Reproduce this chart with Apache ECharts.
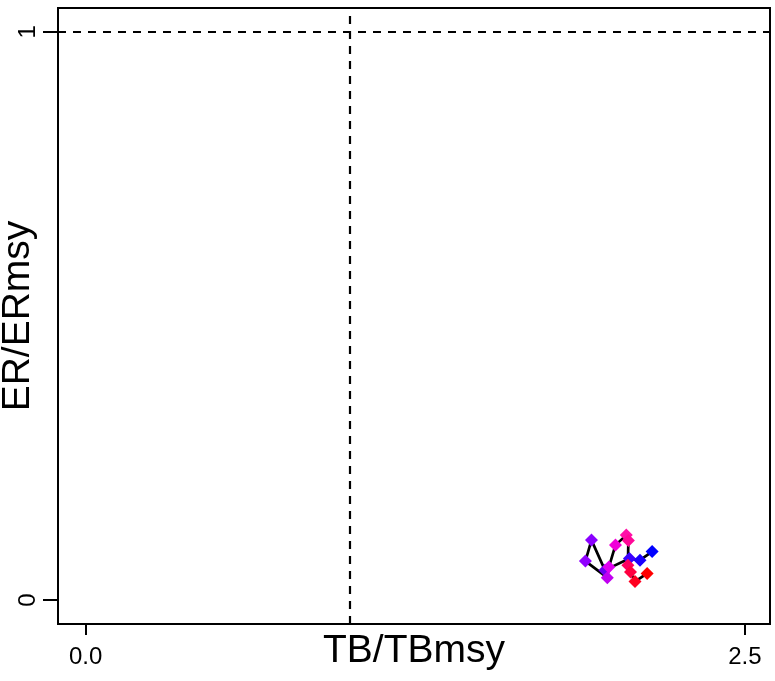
<!DOCTYPE html>
<html>
<head>
<meta charset="utf-8">
<script src="https://cdn.jsdelivr.net/npm/echarts@6/dist/echarts.min.js"></script>
<style>
html,body{margin:0;padding:0;background:#fff;}
#chart{width:775px;height:681px;}
</style>
</head>
<body>
<div id="chart"></div>
<script>
// Trajectory of TB/TBmsy (x) vs ER/ERmsy (y), in time order
const tbRatio = [2.148, 2.102, 2.062, 1.969, 1.918, 1.895, 1.978, 1.984, 2.009, 2.050, 2.058, 2.056, 2.066, 2.083, 2.129];
const erRatio = [0.0854, 0.0704, 0.0731, 0.0528, 0.1056, 0.0687, 0.0396, 0.0581, 0.0968, 0.1144, 0.1048, 0.0616, 0.0493, 0.0326, 0.0470];
const pointColors = ['#0000ff', '#1a00ff', '#3a00ff', '#6a00f0', '#8a00ff', '#9000ff', '#c000f0', '#e000f0', '#f000d8', '#ff10a8', '#ff0898', '#ff0060', '#ff0040', '#ff0020', '#ff0000'];
const xTicks = [0, 2.5];
const xTickLabels = ['0.0', '2.5'];
const yTicks = [0, 1];
const yTickLabels = ['0', '1'];
const refX = 1;
const refY = 1;

const data = tbRatio.map((x, i) => ({
  value: [x, erRatio[i]],
  itemStyle: { color: pointColors[i] }
}));

const chart = echarts.init(document.getElementById('chart'), null, { renderer: 'canvas' });
const font = 'Liberation Sans, Arial, Helvetica, sans-serif';
chart.setOption({
  animation: false,
  backgroundColor: '#ffffff',
  grid: {
    left: 58, right: 5, top: 8, bottom: 57,
    containLabel: false,
    outerBoundsMode: 'none',
    show: true, borderColor: '#000', borderWidth: 2, backgroundColor: 'transparent'
  },
  xAxis: {
    type: 'value',
    min: -0.105, max: 2.595,
    position: 'bottom',
    name: 'TB/TBmsy',
    nameLocation: 'middle',
    nameGap: 8,
    nameMoveOverlap: false,
    nameTextStyle: { fontFamily: font, fontSize: 39, color: '#000', verticalAlign: 'top' },
    axisLine: { show: false, onZero: false },
    splitLine: { show: false },
    axisTick: { show: true, length: 11, customValues: xTicks, lineStyle: { color: '#000', width: 2 } },
    axisLabel: {
      show: true, customValues: xTicks, margin: 21,
      fontFamily: font, fontSize: 24, color: '#000',
      formatter: v => xTickLabels[xTicks.indexOf(v)] ?? ''
    }
  },
  yAxis: {
    type: 'value',
    min: -0.042, max: 1.042,
    position: 'left',
    name: 'ER/ERmsy',
    nameLocation: 'middle',
    nameGap: 20,
    nameMoveOverlap: false,
    nameTextStyle: { fontFamily: font, fontSize: 39, color: '#000' },
    axisLine: { show: false, onZero: false },
    splitLine: { show: false },
    axisTick: { show: true, length: 15, customValues: yTicks, lineStyle: { color: '#000', width: 2 } },
    axisLabel: {
      show: true, customValues: yTicks, margin: 18, rotate: 90,
      fontFamily: font, fontSize: 24, color: '#000',
      formatter: v => yTickLabels[yTicks.indexOf(v)] ?? ''
    }
  },
  series: [{
    type: 'line',
    data: data,
    symbol: 'diamond',
    symbolSize: 13,
    lineStyle: { color: '#000', width: 2.7 },
    itemStyle: { borderWidth: 0 },
    z: 3,
    markLine: {
      silent: true,
      symbol: ['none', 'none'],
      label: { show: false },
      lineStyle: { color: '#000', width: 2.2, type: [8, 7] },
      data: [{ xAxis: refX }, { yAxis: refY }],
      z: 1
    }
  }]
});
</script>
</body>
</html>
